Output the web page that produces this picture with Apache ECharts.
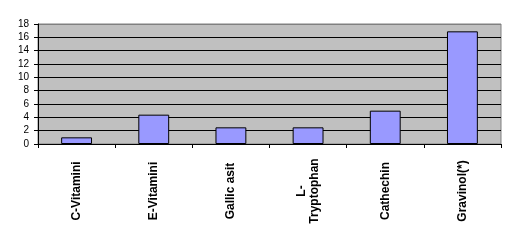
<!DOCTYPE html>
<html>
<head>
<meta charset="utf-8">
<script src="https://cdn.jsdelivr.net/npm/echarts@6/dist/echarts.min.js"></script>
<style>html,body{margin:0;padding:0;background:#fff}#c{width:516px;height:251px}</style>
</head>
<body>
<div id="c"></div>
<script>
var categories = ['C-Vitamini', 'E-Vitamini', 'Gallic asit', 'L-\nTryptophan', 'Cathechin', 'Gravinol(*)'];
var values = [1.0, 4.4, 2.5, 2.5, 5.0, 16.9];
var yTicks = [0, 2, 4, 6, 8, 10, 12, 14, 16, 18];

var chart = echarts.init(document.getElementById('c'), null, {renderer: 'canvas'});
var gridColors = yTicks.map(function (v, i) { return i === yTicks.length - 1 ? '#808080' : '#000000'; });
chart.setOption({
  animation: false,
  backgroundColor: '#ffffff',
  grid: {
    left: 38, right: 15, top: 24, bottom: 107,
    show: true, backgroundColor: '#c0c0c0', borderColor: '#808080', borderWidth: 1
  },
  xAxis: {
    type: 'category',
    data: categories,
    axisLine: {lineStyle: {color: '#000', width: 1}},
    axisTick: {show: true, length: 4, inside: false, lineStyle: {color: '#000'}},
    axisLabel: {
      rotate: 90, align: 'center', verticalAlign: 'middle', margin: 47,
      fontFamily: 'Arial, Liberation Sans', fontWeight: 'bold', fontSize: 12, color: '#000',
      lineHeight: 13
    }
  },
  yAxis: {
    type: 'value',
    min: yTicks[0], max: yTicks[yTicks.length - 1], interval: 2,
    axisLine: {show: true, lineStyle: {color: '#000', width: 1}},
    axisTick: {show: true, length: 4, lineStyle: {color: '#000'}},
    axisLabel: {fontFamily: 'Arial, Liberation Sans', fontSize: 10, color: '#000', margin: 9},
    splitLine: {show: true, lineStyle: {color: gridColors, width: 1}}
  },
  series: [{
    type: 'bar',
    data: values,
    barWidth: '40%',
    itemStyle: {color: '#9999ff', borderColor: '#000', borderWidth: 1}
  }]
});
</script>
</body>
</html>
